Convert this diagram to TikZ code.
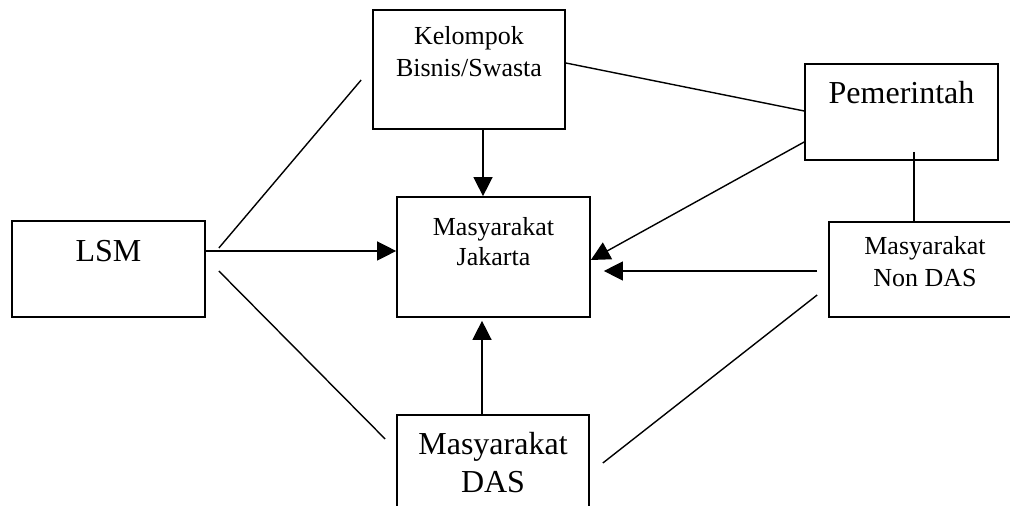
\documentclass[tikz,border=0pt]{standalone}
\usepackage{fontspec}
\setmainfont{Liberation Serif}
\usetikzlibrary{positioning, arrows.meta}

\tikzset{
  kotak/.style={draw, line width=0.85pt, inner sep=0pt},
  teks/.style={inner sep=0pt, align=center, font=\fontsize{13}{16}\selectfont},
  teksbesar/.style={inner sep=0pt, align=center, font=\fontsize{16}{19}\selectfont},
  garis/.style={line width=0.7pt},
  panah/.style={line width=0.7pt, -{Triangle[length=9.5pt, width=9.5pt]}}
}

\begin{document}
\begin{tikzpicture}[x=0.5pt, y=-0.5pt]
  \useasboundingbox (0,0) rectangle (1010,506);
  \clip (0,0) rectangle (1010,506);
  % Kotak pelaku
  \node[kotak, minimum width=96.5pt, minimum height=48pt] (lsm) at (108.5,269) {};
  \node[kotak, minimum width=96pt, minimum height=59.5pt] (kel) at (469,69.5) {};
  \node[kotak, minimum width=96.5pt, minimum height=48pt] (pem) at (901.5,112) {};
  \node[kotak, minimum width=96.5pt, minimum height=60pt] (jak) at (493.5,257) {};
  \node[kotak, minimum width=96pt, minimum height=47.5pt] (non) at (925,269.5) {};
  \node[kotak, minimum width=96pt, minimum height=60pt] (das) at (493,475) {};
  % Teks di dalam kotak
  \node[teksbesar, below=10pt of lsm.north] (lsmteks) {LSM};
  \node[teks, below=8.5pt of kel.north] (kelteks) {Kelompok\\Bisnis/Swasta};
  \node[teksbesar, below=9pt of pem.north] (pemteks) {Pemerintah};
  \node[teks, below=10.5pt of jak.north, font=\fontsize{13}{15}\selectfont] (jakteks) {Masyarakat\\Jakarta};
  \node[teks, below=7.5pt of non.north] (nonteks) {Masyarakat\\Non DAS};
  \node[teksbesar, below=9pt of das.north] (dasteks) {Masyarakat\\DAS};
  % Garis hubungan (tanpa panah)
  \draw[garis] ([shift={(13,-21)}]lsm.east) -- ([shift={(-11,10.5)}]kel.west);
  \draw[garis] ([shift={(13,2)}]lsm.east) -- ([shift={(-11,-36)}]das.west);
  \draw[garis] ([shift={(0,-6.5)}]kel.east) -- ([shift={(0,-1)}]pem.west);
  \draw[garis] ([shift={(12.5,-9)}]pem.south) -- ([shift={(-11,1)}]non.north);
  \draw[garis] ([shift={(-11,25.5)}]non.west) -- ([shift={(13,-12)}]das.east);
  % Panah ke Masyarakat Jakarta
  \draw[panah] ([shift={(0,-18)}]lsm.east) -- ([shift={(0,-6)}]jak.west);
  \draw[panah] ([shift={(14,0)}]kel.south) -- ([shift={(-10.5,0)}]jak.north);
  \draw[panah] ([shift={(0,30)}]pem.west) -- ([shift={(0,3)}]jak.east);
  \draw[panah] ([shift={(-11,1.5)}]non.west) -- ([shift={(13,14)}]jak.east);
  \draw[panah] ([shift={(-11,0)}]das.north) -- ([shift={(-11.5,3)}]jak.south);
\end{tikzpicture}
\end{document}
